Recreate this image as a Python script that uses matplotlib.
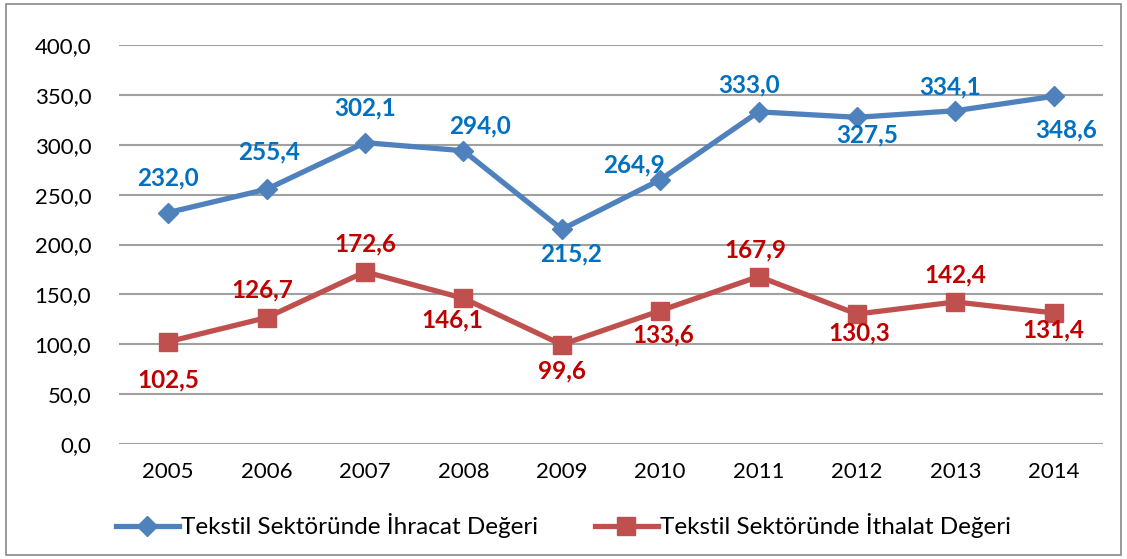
import matplotlib
matplotlib.use('Agg')
from matplotlib import pyplot as plt
from matplotlib.patches import Rectangle
from matplotlib.ticker import FuncFormatter

plt.rcParams['font.family'] = ['Lato', 'DejaVu Sans']

years = ['2005', '2006', '2007', '2008', '2009', '2010', '2011', '2012', '2013', '2014']
exportValues = [232.0, 255.4, 302.1, 294.0, 215.2, 264.9, 333.0, 327.5, 334.1, 348.6]
importValues = [102.5, 126.7, 172.6, 146.1, 99.6, 133.6, 167.9, 130.3, 142.4, 131.4]
exportName = 'Tekstil Sektöründe İhracat Değeri'
importName = 'Tekstil Sektöründe İthalat Değeri'

# label offsets in pixels (dx, dy), dy positive = up
exportOffsets = [(0, 35), (2, 37), (0, 35), (17, 25), (9, -25), (-26, 15), (-10, 27), (10, -18), (-5, 24), (12, -34)]
importOffsets = [(0, -38), (-4, 28), (0, 28), (-11, -22), (0, -26), (3, -24), (-3, 27), (2, -19), (0, 27), (0, -17)]

blueLine = '#4F81BD'
blueText = '#0070C0'
redLine = '#C0504D'
redText = '#C00000'

fig = plt.figure(figsize=(11.27, 5.59), dpi=100)
ax = fig.add_axes([119 / 1127, 1 - 444 / 559, (1103 - 119) / 1127, (444 - 45) / 559])

x = list(range(len(years)))
ax.plot(x, exportValues, color=blueLine, lw=3.8, marker='D', markersize=10.5, label=exportName, zorder=3)
ax.plot(x, importValues, color=redLine, lw=3.8, marker='s', markersize=12.5, label=importName, zorder=3)

for i, v in enumerate(exportValues):
    ax.annotate(f'{v:.1f}'.replace('.', ','), (i, v), xytext=exportOffsets[i], textcoords='offset pixels',
                ha='center', va='center', color=blueText, fontsize=17.5, fontweight='bold')
for i, v in enumerate(importValues):
    ax.annotate(f'{v:.1f}'.replace('.', ','), (i, v), xytext=importOffsets[i], textcoords='offset pixels',
                ha='center', va='center', color=redText, fontsize=17.5, fontweight='bold')

ax.set_xlim(-0.5, len(years) - 0.5)
ax.set_ylim(0, 400)
ax.set_yticks(range(0, 401, 50))
ax.yaxis.set_major_formatter(FuncFormatter(lambda v, p: f'{v:.1f}'.replace('.', ',')))
ax.set_xticks(x)
ax.set_xticklabels(years)
ax.tick_params(length=0, labelsize=16, colors='black')
ax.tick_params(axis='y', pad=20)
ax.tick_params(axis='x', pad=13)
ax.grid(axis='y', color='#A0A0A0', lw=1.5)
ax.set_axisbelow(True)
for s in ax.spines.values():
    s.set_visible(False)

ax.legend(loc='center', bbox_to_anchor=(0.5, 1 - 526 / 559), bbox_transform=fig.transFigure, ncol=2,
          frameon=False, fontsize=17.5, handlelength=2.6, handletextpad=0.1, columnspacing=2.3)

fig.patches.append(Rectangle((6 / 1127, 4 / 559), 1115 / 1127, 551 / 559, transform=fig.transFigure,
                             fill=False, edgecolor='#888888', lw=1.2))

plt.savefig('out.png', dpi=100)
